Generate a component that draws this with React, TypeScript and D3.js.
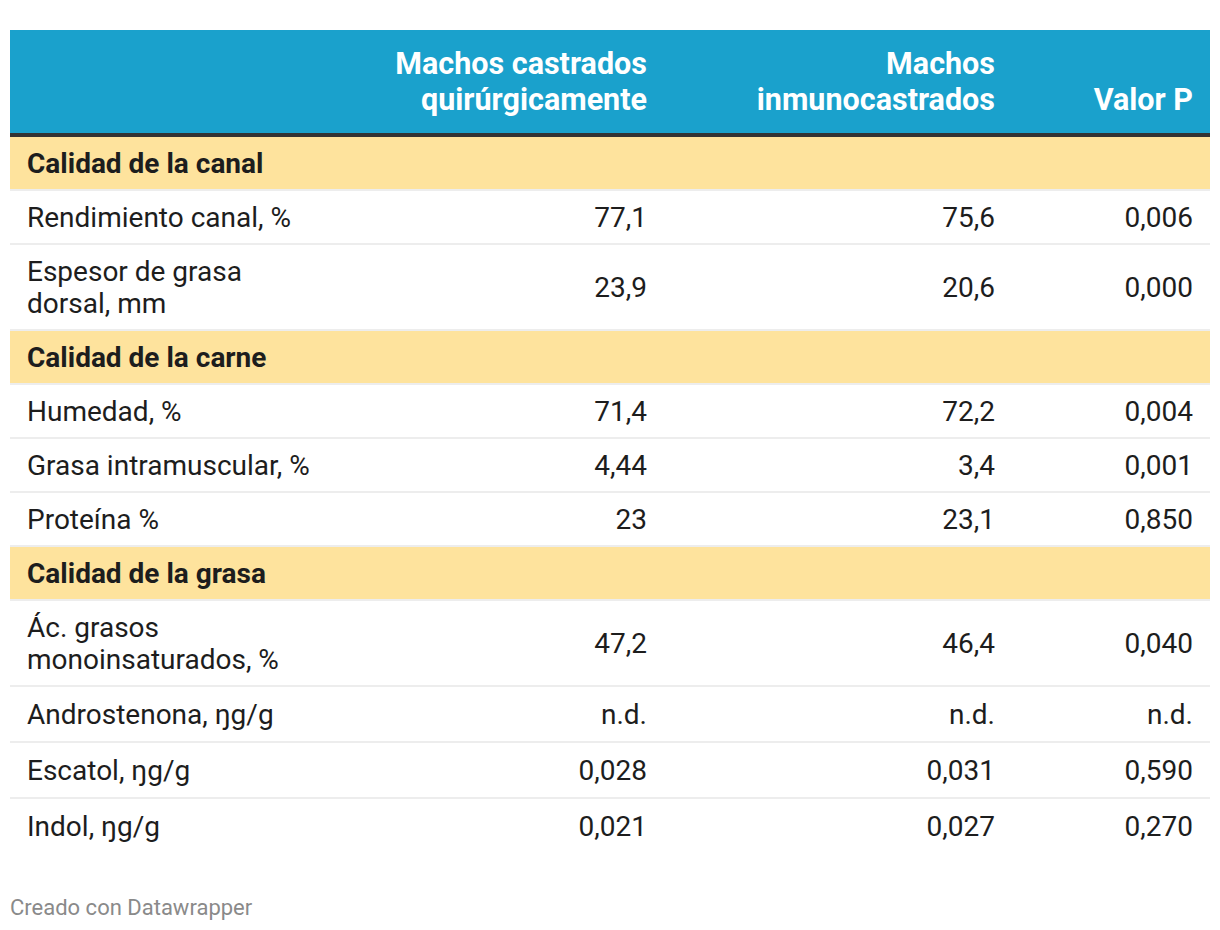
import React from "react";
import * as d3 from "d3";

const headerLabels = ["", "Machos castrados\nquirúrgicamente", "Machos\ninmunocastrados", "Valor P"];
const groupNames = ["Calidad de la canal", "Calidad de la carne", "Calidad de la grasa"];
const rowLabels = [
  "Rendimiento canal, %",
  "Espesor de grasa\ndorsal, mm",
  "Humedad, %",
  "Grasa intramuscular, %",
  "Proteína %",
  "Ác. grasos\nmonoinsaturados, %",
  "Androstenona, ŋg/g",
  "Escatol, ŋg/g",
  "Indol, ŋg/g",
];
const rowGroup = [0, 0, 1, 1, 1, 2, 2, 2, 2];
const castrados = ["77,1", "23,9", "71,4", "4,44", "23", "47,2", "n.d.", "0,028", "0,021"];
const inmuno = ["75,6", "20,6", "72,2", "3,4", "23,1", "46,4", "n.d.", "0,031", "0,027"];
const valorP = ["0,006", "0,000", "0,004", "0,001", "0,850", "0,040", "n.d.", "0,590", "0,270"];
const footer = "Creado con Datawrapper";

const W = 1220;
const H = 930;
const left = 10;
const right = 1210;
const top = 30;
const headerH = 103;
const FONT = "Roboto, 'Noto Sans', sans-serif";
const BODY = 28;
const LINE = 32;

type Row = { kind: "group" | "data"; label: string; values: string[] };

export default function App() {
  const rows: Row[] = [];
  rowLabels.forEach((lab, i) => {
    if (i === 0 || rowGroup[i] !== rowGroup[i - 1]) {
      rows.push({ kind: "group", label: groupNames[rowGroup[i]], values: [] });
    }
    rows.push({ kind: "data", label: lab, values: [castrados[i], inmuno[i], valorP[i]] });
  });

  const heights = rows.map((r) => {
    const n = r.label.split("\n").length;
    let h = 54 + (n - 1) * 32;
    if (r.label.includes("ŋ")) h += 2;
    return h;
  });
  const bodyTop = top + headerH + 4;
  const starts = [0, ...d3.cumsum(heights)].map((v) => v + bodyTop);

  const colX = d3.scaleOrdinal<number, number>().domain([0, 1, 2, 3]).range([27, 647, 995, 1193]);

  return (
    <div style={{ position: "absolute", left: 0, top: 0 }}>
      <svg width={W} height={H} style={{ display: "block" }} fontFamily={FONT}>
        <rect x={0} y={0} width={W} height={H} fill="#fff" />
        <rect x={left} y={top} width={right - left} height={headerH} fill="#1aa1cc" />
        <rect x={left} y={top + headerH} width={right - left} height={4} fill="#333333" />
        {headerLabels.map((h, ci) => {
          if (!h) return null;
          const lines = h.split("\n");
          const lastY = top + headerH - 34;
          return (
            <text key={ci} x={colX(ci)} textAnchor="end" fontSize={30.5} fontWeight={700} fill="#fff">
              {lines.map((ln, li) => (
                <tspan key={li} x={colX(ci)} y={lastY - (lines.length - 1 - li) * 36} dominantBaseline="central">
                  {ln}
                </tspan>
              ))}
            </text>
          );
        })}
        {rows.map((r, i) => {
          const y0 = starts[i];
          const h = heights[i];
          const cy = y0 + (h - 2) / 2;
          const lines = r.label.split("\n");
          const isLast = i === rows.length - 1;
          return (
            <g key={i}>
              {r.kind === "group" && <rect x={left} y={y0} width={right - left} height={h - 2} fill="#fee39d" />}
              {!isLast && <rect x={left} y={y0 + h - 2} width={right - left} height={2} fill="#ededed" />}
              <text
                x={colX(0)}
                fontSize={BODY}
                fontWeight={r.kind === "group" ? 700 : 400}
                fill="#1d1d1d"
              >
                {lines.map((ln, li) => (
                  <tspan
                    key={li}
                    x={colX(0)}
                    y={cy + (li - (lines.length - 1) / 2) * LINE}
                    dominantBaseline="central"
                  >
                    {ln}
                  </tspan>
                ))}
              </text>
              {r.values.map((v, vi) => (
                <text
                  key={vi}
                  x={colX(vi + 1)}
                  y={cy}
                  dominantBaseline="central"
                  textAnchor="end"
                  fontSize={BODY}
                  fill="#1d1d1d"
                >
                  {v}
                </text>
              ))}
            </g>
          );
        })}
        <text x={10} y={907} dominantBaseline="central" fontSize={22} fill="#8a8a8a">
          {footer}
        </text>
      </svg>
    </div>
  );
}
